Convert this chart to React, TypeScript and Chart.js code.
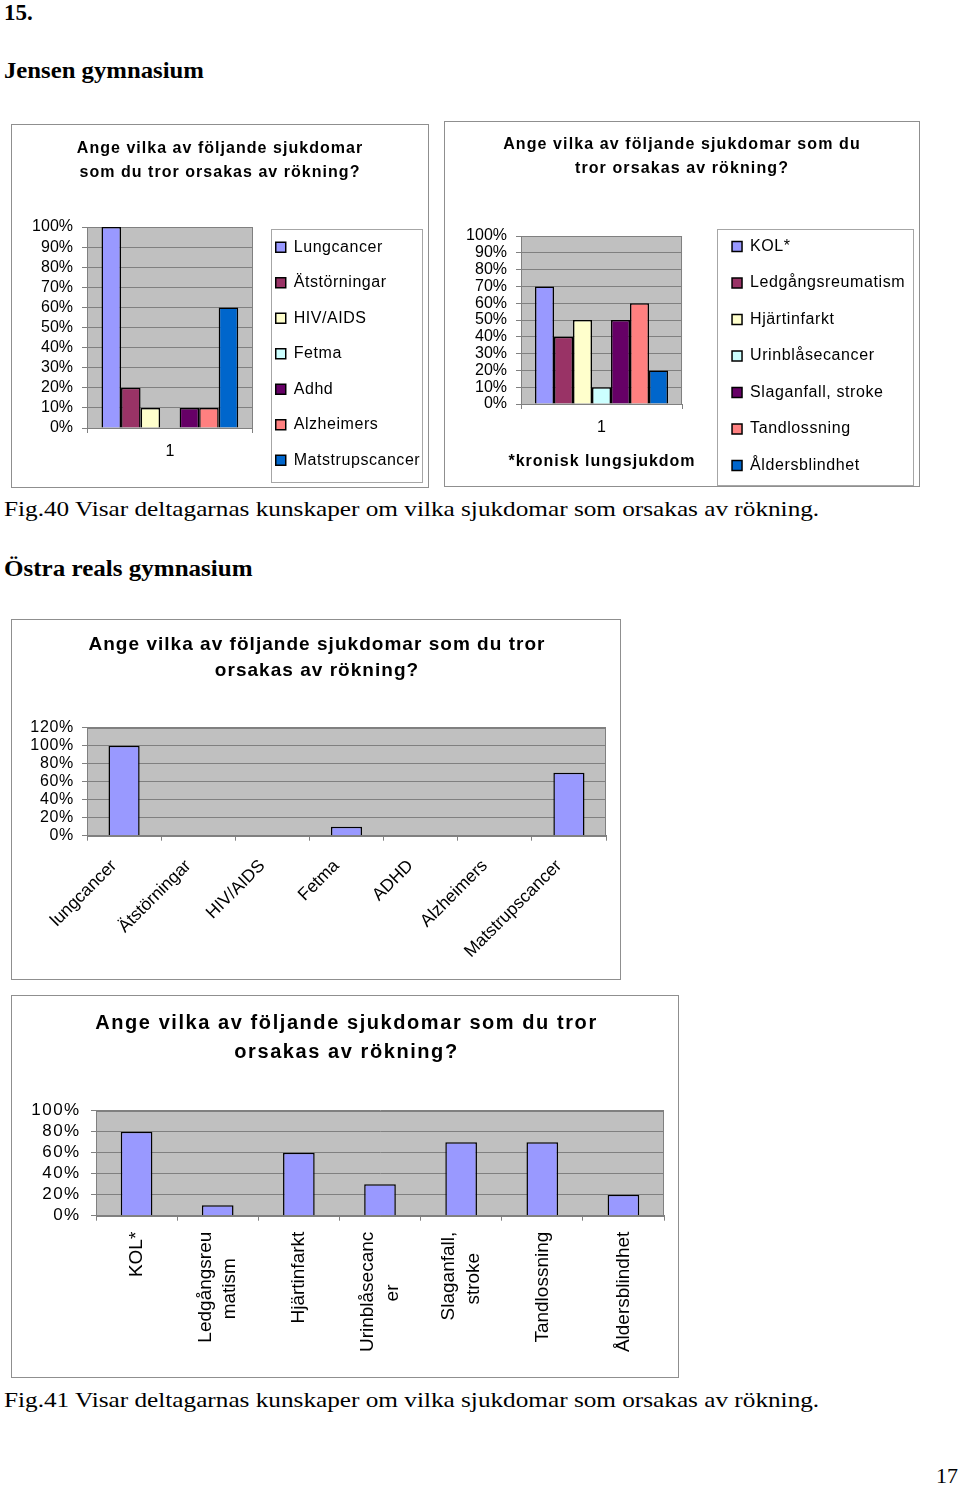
import React, { useEffect, useRef } from 'react';
import { Chart, registerables } from 'chart.js';

Chart.register(...registerables);

const SANS = "'Liberation Sans', Arial, sans-serif";
const SERIF = "'Liberation Serif', 'Times New Roman', serif";
Chart.defaults.font.family = SANS;
Chart.defaults.color = '#000';

// ---------------- data ----------------
const jensenCategories = ['1'];
const jensenSeriesA = ['Lungcancer', 'Ätstörningar', 'HIV/AIDS', 'Fetma', 'Adhd', 'Alzheimers', 'Matstrupscancer'];
const jensenValuesA = [100, 20, 10, 0, 10, 10, 60];
const jensenSeriesB = ['KOL*', 'Ledgångsreumatism', 'Hjärtinfarkt', 'Urinblåsecancer', 'Slaganfall, stroke', 'Tandlossning', 'Åldersblindhet'];
const jensenValuesB = [70, 40, 50, 10, 50, 60, 20];
const ostraCategoriesA = ['lungcancer', 'Ätstörningar', 'HIV/AIDS', 'Fetma', 'ADHD', 'Alzheimers', 'Matstrupscancer'];
const ostraValuesA = [100, 0, 0, 10, 0, 0, 70];
const ostraCategoriesB = [['KOL*'], ['Ledgångsreu', 'matism'], ['Hjärtinfarkt'], ['Urinblåsecanc', 'er'], ['Slaganfall,', 'stroke'], ['Tandlossning'], ['Åldersblindhet']];
const ostraValuesB = [80, 10, 60, 30, 70, 70, 20];
const seriesColors = ['#9999FF', '#993366', '#FFFFCC', '#CCFFFF', '#660066', '#FF8080', '#0066CC'];
const singleColor = '#9999FF';

const titleJensenA = ['Ange vilka av följande sjukdomar', 'som du tror orsakas av rökning?'];
const titleJensenB = ['Ange vilka av följande sjukdomar som du', 'tror orsakas av rökning?'];
const titleOstra = ['Ange vilka av följande sjukdomar som du tror', 'orsakas av rökning?'];
const xTitleJensenB = '*kronisk lungsjukdom';

const yMaxJensen = 100;
const yStepJensen = 10;
const yMaxOstraA = 120;
const yMaxOstraB = 100;
const yStepOstra = 20;

// ---------------- plugins ----------------
const plotAreaPlugin = {
  id: 'plotArea',
  beforeDraw(chart: any) {
    const { ctx, chartArea: a } = chart;
    if (!a) return;
    ctx.save();
    ctx.fillStyle = '#C0C0C0';
    ctx.fillRect(a.left, a.top, a.right - a.left, a.bottom - a.top);
    ctx.restore();
  },
  beforeDatasetsDraw(chart: any) {
    const { ctx, chartArea: a } = chart;
    if (!a) return;
    ctx.save();
    ctx.strokeStyle = '#808080';
    ctx.lineWidth = 1;
    ctx.strokeRect(Math.round(a.left) + 0.5, Math.round(a.top) + 0.5, Math.round(a.right - a.left) - 1, Math.round(a.bottom - a.top));
    ctx.restore();
  },
};

const textTweaksPlugin = {
  id: 'textTweaks',
  beforeLayout(chart: any, _args: any, opts: any) {
    try {
      const ctx = chart.ctx;
      const o = opts || {};
      const wrap = (obj: any, method: string, px?: number) => {
        if (!obj || !px || obj['__sp_' + method]) return;
        const orig = obj[method];
        if (typeof orig !== 'function') return;
        obj[method] = function (...a: any[]) {
          ctx.save();
          try {
            (ctx as any).letterSpacing = px + 'px';
          } catch (e) {}
          try {
            return orig.apply(this, a);
          } finally {
            ctx.restore();
          }
        };
        obj['__sp_' + method] = true;
      };
      wrap(chart.titleBlock, 'draw', o.title);
      wrap(chart.legend, 'draw', o.legend);
      const xs = chart.scales && chart.scales.x;
      if (chart.scales) wrap(chart.scales.y, 'drawLabels', o.yTicks);
      // axis title drawn without the plot-width squeeze, with optional letter spacing
      if (o.xTitleFree && xs && !xs.__xt) {
        xs.drawTitle = function () {
          const t = this.options.title;
          if (!t || !t.display) return;
          const f = t.font || {};
          const size = f.size || 12;
          const lh = typeof f.lineHeight === 'number' && f.lineHeight < 4 ? size * f.lineHeight : size * 1.2;
          const pb = (t.padding && typeof t.padding === 'object' ? t.padding.bottom : t.padding) || 0;
          ctx.save();
          try {
            (ctx as any).letterSpacing = (o.xTitle || 0) + 'px';
          } catch (e) {}
          ctx.font = `${f.weight || 'normal'} ${size}px ${f.family || SANS}`;
          ctx.fillStyle = t.color || '#000';
          ctx.textAlign = 'center';
          ctx.textBaseline = 'middle';
          ctx.fillText(String(t.text), (this.left + this.right) / 2 + (o.xTitle || 0) / 2, this.bottom - pb - lh / 2);
          ctx.restore();
        };
        xs.__xt = true;
      }
      if (o.centerMultiline && xs && !xs.__ml && typeof xs._computeLabelItems === 'function') {
        const orig = xs._computeLabelItems;
        xs._computeLabelItems = function (area: any) {
          const items = orig.call(this, area);
          (items || []).forEach((it: any) => {
            const n = Array.isArray(it.label) ? it.label.length : 1;
            if (n > 1 && it.options && it.options.translation && it.font) {
              const t = it.options.translation;
              it.options.translation = [t[0] - ((n - 1) * it.font.lineHeight) / 2, t[1]];
            }
          });
          return items;
        };
        xs.__ml = true;
      }
    } catch (e: any) {
      console.error('textTweaks', e && e.stack);
    }
  },
};

const legendFramePlugin = {
  id: 'legendFrame',
  afterDraw(chart: any, _args: any, opts: any) {
    const lg = chart.legend;
    if (!lg || !opts || opts.left === undefined || !lg.columnSizes || !lg.columnSizes.length) return;
    const pad = lg.options.labels.padding;
    const itemsLeft = lg.left + pad;
    const itemsTop = lg.bottom - lg.columnSizes[0].height;
    const itemsBottom = lg.bottom - pad;
    const x0 = Math.round(itemsLeft - opts.left) + 0.5;
    const y0 = Math.round(itemsTop - opts.top) + 0.5;
    const x1 = Math.round(lg.right + opts.right) + 0.5;
    const y1 = Math.round(itemsBottom + opts.bottom) + 0.5;
    const { ctx } = chart;
    ctx.save();
    ctx.strokeStyle = '#a6a6a6';
    ctx.lineWidth = 1;
    ctx.strokeRect(x0, y0, x1 - x0, y1 - y0);
    ctx.restore();
  },
};

// ---------------- helpers ----------------
const measureCtx: CanvasRenderingContext2D | null =
  typeof document !== 'undefined' ? document.createElement('canvas').getContext('2d') : null;

function centeredLines(lines: string[], font: string) {
  if (!lines || lines.length < 2 || !measureCtx) return lines;
  measureCtx.font = font;
  const widths = lines.map((l) => measureCtx.measureText(l).width);
  const maxW = Math.max(...widths);
  const sp = measureCtx.measureText(' ').width || 5;
  return lines.map((l, i) => l + ' '.repeat(Math.max(0, Math.round((maxW - widths[i]) / 2 / sp))));
}

function xCat(o: any) {
  const ticks: any = {
    color: '#000',
    font: { size: o.font, lineHeight: o.lineHeight || 1.2 },
    padding: o.pad,
    autoSkip: false,
    maxRotation: o.rot || 0,
    minRotation: o.rot || 0,
    labelOffset: o.labelOffset || 0,
  };
  if (o.callback) ticks.callback = o.callback;
  const scale: any = {
    type: 'category',
    grid: { display: true, drawOnChartArea: false, drawTicks: true, tickLength: 5, color: '#808080', offset: true },
    border: { display: true, color: '#808080', width: 1 },
    ticks,
    afterFit: (s: any) => {
      s.height = o.height;
    },
  };
  if (o.title) {
    scale.title = {
      display: true,
      text: o.title,
      color: '#000',
      font: { size: 16, weight: 'bold', lineHeight: 1.2 },
      padding: { top: 0, bottom: o.titleBottom },
    };
  }
  return scale;
}

function yPct(o: any) {
  return {
    type: 'linear',
    position: 'left',
    min: 0,
    max: o.max,
    grid: { color: '#808080', lineWidth: 1, tickLength: 5, drawTicks: true },
    border: { display: true, color: '#808080', width: 1 },
    ticks: {
      stepSize: o.step,
      autoSkip: false,
      color: '#000',
      font: { size: o.font },
      padding: o.pad,
      callback: (v: any) => v + '%',
    },
    afterFit: (s: any) => {
      s.width = o.width;
    },
  };
}

function spacer(w: number) {
  return {
    type: 'linear',
    position: 'right',
    min: 0,
    max: 1,
    grid: { display: false },
    border: { display: false },
    ticks: { display: false },
    afterFit: (s: any) => {
      s.width = w;
    },
  };
}

// ---------------- chart configs ----------------
const configJensenA = () => ({
  type: 'bar',
  data: {
    labels: jensenCategories,
    datasets: jensenSeriesA.map((name, i) => ({
      label: name,
      data: [jensenValuesA[i]],
      backgroundColor: seriesColors[i],
      borderColor: '#000',
      borderWidth: 1.5,
      yAxisID: 'y',
      categoryPercentage: 0.825,
      barPercentage: 1,
    })),
  },
  options: {
    responsive: false,
    animation: false,
    events: [],
    layout: { padding: { left: 6, right: 6, top: 0, bottom: -0.75 } },
    scales: {
      x: xCat({ font: 16, pad: 9.4, height: 59.75 }),
      y: yPct({ max: yMaxJensen, step: yStepJensen, font: 16, pad: 9, width: 69 }),
      yR: spacer(3.5),
    },
    plugins: {
      title: {
        display: true,
        text: titleJensenA,
        color: '#000',
        font: { size: 16, weight: 'bold', lineHeight: 1.5 },
        padding: { top: 12, bottom: 42 },
      },
      legend: {
        display: true,
        position: 'right',
        align: 'end',
        maxWidth: 171.5,
        labels: { boxWidth: 10, boxHeight: 10, padding: 19.5, color: '#000', font: { size: 16 } },
      },
      tooltip: { enabled: false },
      legendFrame: { left: 5, top: 10.25, right: 0, bottom: 13.75 },
      textTweaks: { title: 1.03, legend: 0.55 },
    },
  },
  plugins: [plotAreaPlugin, textTweaksPlugin, legendFramePlugin],
});

const configJensenB = () => ({
  type: 'bar',
  data: {
    labels: jensenCategories,
    datasets: jensenSeriesB.map((name, i) => ({
      label: name,
      data: [jensenValuesB[i]],
      backgroundColor: seriesColors[i],
      borderColor: '#000',
      borderWidth: 1.5,
      yAxisID: 'y',
      categoryPercentage: 0.826,
      barPercentage: 1,
    })),
  },
  options: {
    responsive: false,
    animation: false,
    events: [],
    layout: { padding: { left: 14, right: 14, top: 0, bottom: -8 } },
    scales: {
      x: xCat({ font: 16, pad: 9.4, height: 90, title: xTitleJensenB, titleBottom: 22.4 }),
      y: yPct({ max: yMaxJensen, step: yStepJensen, font: 16, pad: 9, width: 62 }),
      yR: spacer(29.5),
    },
    plugins: {
      title: {
        display: true,
        text: titleJensenB,
        color: '#000',
        font: { size: 16, weight: 'bold', lineHeight: 1.45 },
        padding: { top: 11.4, bottom: 56.2 },
      },
      legend: {
        display: true,
        position: 'right',
        align: 'end',
        maxWidth: 193.5,
        labels: { boxWidth: 10, boxHeight: 10, padding: 20.5, color: '#000', font: { size: 16 } },
      },
      tooltip: { enabled: false },
      legendFrame: { left: 15, top: 9.5, right: 8, bottom: 11 },
      textTweaks: { title: 1.1, legend: 0.6, xTitle: 1.0, xTitleFree: true },
    },
  },
  plugins: [plotAreaPlugin, textTweaksPlugin, legendFramePlugin],
});

const configOstraA = () => ({
  type: 'bar',
  data: {
    labels: ostraCategoriesA,
    datasets: [
      {
        label: 'Östra reals',
        data: ostraValuesA,
        backgroundColor: singleColor,
        borderColor: '#000',
        borderWidth: 1.5,
        categoryPercentage: 1,
        barPercentage: 0.42,
      },
    ],
  },
  options: {
    responsive: false,
    animation: false,
    events: [],
    layout: { padding: { left: 16, right: 14, top: 0, bottom: 0 } },
    scales: {
      x: xCat({ font: 17.5, pad: 15, height: 143.3, rot: 45, labelOffset: -10 }),
      y: yPct({ max: yMaxOstraA, step: yStepOstra, font: 16, pad: 8, width: 59 }),
    },
    plugins: {
      title: {
        display: true,
        text: titleOstra,
        color: '#000',
        font: { size: 19, weight: 'bold', lineHeight: 1.4 },
        padding: { top: 11, bottom: 43.5 },
      },
      legend: { display: false },
      tooltip: { enabled: false },
      textTweaks: { title: 1.03, yTicks: 0.7 },
    },
  },
  plugins: [plotAreaPlugin, textTweaksPlugin],
});

const configOstraB = () => ({
  type: 'bar',
  data: {
    labels: ostraCategoriesB,
    datasets: [
      {
        label: 'Östra reals',
        data: ostraValuesB,
        backgroundColor: singleColor,
        borderColor: '#000',
        borderWidth: 1.5,
        categoryPercentage: 1,
        barPercentage: 0.39,
      },
    ],
  },
  options: {
    responsive: false,
    animation: false,
    events: [],
    layout: { padding: { left: 17, right: 14, top: 0, bottom: 0 } },
    scales: {
      x: xCat({
        font: 19,
        lineHeight: 1.3,
        pad: 11,
        height: 161.3,
        rot: 90,
        callback: (_v: any, index: number) => centeredLines(ostraCategoriesB[index], `19px ${SANS}`),
      }),
      y: yPct({ max: yMaxOstraB, step: yStepOstra, font: 17, pad: 10.3, width: 67 }),
    },
    plugins: {
      title: {
        display: true,
        text: titleOstra,
        color: '#000',
        font: { size: 20, weight: 'bold', lineHeight: 1.45 },
        padding: { top: 12.8, bottom: 43.9 },
      },
      legend: { display: false },
      tooltip: { enabled: false },
      textTweaks: { title: 1.57, yTicks: 1.5, centerMultiline: true },
    },
  },
  plugins: [plotAreaPlugin, textTweaksPlugin],
});

// ---------------- components ----------------
function ChartBox({ x, y, w, h, config }: { x: number; y: number; w: number; h: number; config: () => any }) {
  const ref = useRef<HTMLCanvasElement>(null);
  useEffect(() => {
    if (!ref.current) return;
    let chart: any = null;
    try {
      chart = new Chart(ref.current, config());
    } catch (e: any) {
      console.error('chart failed', e && e.stack);
      chart = null;
    }
    return () => {
      if (chart) chart.destroy();
    };
  }, []);
  return (
    <div
      style={{
        position: 'absolute',
        left: x,
        top: y,
        width: w,
        height: h,
        boxSizing: 'border-box',
        border: '1px solid #8f8f8f',
        background: '#fff',
      }}
    >
      <canvas ref={ref} width={w - 2} height={h - 2} style={{ display: 'block' }} />
    </div>
  );
}

function PageText({
  x,
  baseline,
  size,
  bold,
  scale = 1,
  children,
}: {
  x: number;
  baseline: number;
  size: number;
  bold?: boolean;
  scale?: number;
  children: React.ReactNode;
}) {
  return (
    <div
      style={{
        position: 'absolute',
        left: x,
        top: baseline - 0.8375 * size,
        fontFamily: SERIF,
        fontSize: size,
        lineHeight: 1,
        fontWeight: bold ? 700 : 400,
        whiteSpace: 'nowrap',
        transform: `scaleX(${scale})`,
        transformOrigin: 'left top',
        color: '#000',
      }}
    >
      {children}
    </div>
  );
}

export default function App() {
  return (
    <div
      style={{
        position: 'absolute',
        left: 0,
        top: 0,
        width: 960,
        height: 1487,
        overflow: 'hidden',
        background: '#fff',
      }}
    >
      <PageText x={4} baseline={20} size={23} bold>
        15.
      </PageText>
      <PageText x={4} baseline={78} size={23} bold scale={1.075}>
        Jensen gymnasium
      </PageText>
      <ChartBox x={11} y={124} w={418} h={364} config={configJensenA} />
      <ChartBox x={444} y={121} w={476} h={366} config={configJensenB} />
      <PageText x={4} baseline={516} size={22} scale={1.147}>
        Fig.40 Visar deltagarnas kunskaper om vilka sjukdomar som orsakas av rökning.
      </PageText>
      <PageText x={4} baseline={576} size={23} bold scale={1.089}>
        Östra reals gymnasium
      </PageText>
      <ChartBox x={11} y={619} w={610} h={361} config={configOstraA} />
      <ChartBox x={11} y={995} w={668} h={383} config={configOstraB} />
      <PageText x={4} baseline={1407} size={22} scale={1.147}>
        Fig.41 Visar deltagarnas kunskaper om vilka sjukdomar som orsakas av rökning.
      </PageText>
      <PageText x={936} baseline={1483} size={22}>
        17
      </PageText>
    </div>
  );
}
